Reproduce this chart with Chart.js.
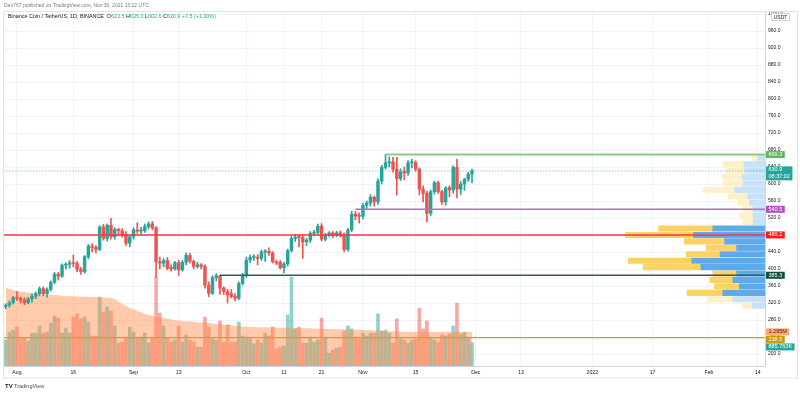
<!DOCTYPE html>
<html>
<head>
<meta charset="utf-8">
<script src="https://cdn.jsdelivr.net/npm/chart.js@4/dist/chart.umd.min.js"></script>
<style>
  html, body { margin: 0; padding: 0; background: #fff; }
  canvas { display: block; }
</style>
</head>
<body>
<canvas id="chart" width="800" height="394"></canvas>
<script>
// BNB/USDT daily candles, 2021-07-29 .. 2021-11-30
const firstDate = '2021-07-29';
const open = [312, 315, 321, 332, 331, 327, 321, 330, 336, 342, 354, 342, 352, 369, 388, 383, 409, 411, 414, 413,
  399, 394, 429, 454, 451, 446, 499, 472, 503, 476, 493, 490, 481, 461, 476, 492, 489, 490, 500, 506,
  497, 417, 414, 420, 404, 400, 415, 398, 416, 432, 418, 406, 410, 406, 362, 343, 380, 384, 355, 347,
  342, 336, 331, 366, 385, 421, 427, 428, 425, 440, 442, 438, 417, 416, 403, 412, 443, 472, 475, 474,
  464, 468, 484, 486, 501, 470, 480, 485, 479, 485, 479, 446, 492, 529, 525, 524, 550, 555, 569, 558,
  607, 639, 650, 652, 635, 613, 629, 626, 650, 651, 635, 588, 578, 531, 582, 603, 582, 558, 592, 586,
  639, 588, 600, 611, 623.5];
const high = [318, 325, 336, 347, 334, 332, 333, 341, 346, 358, 358, 356, 372, 392, 392, 412, 415, 420, 433, 418,
  404, 432, 458, 460, 455, 502, 505, 506, 519, 497, 496, 495, 488, 480, 497, 509, 498, 506, 511, 512,
  500, 428, 425, 427, 410, 418, 421, 420, 438, 437, 421, 416, 413, 410, 370, 384, 389, 386, 358, 352,
  352, 342, 370, 390, 428, 433, 434, 434, 445, 446, 450, 441, 421, 420, 416, 447, 477, 481, 480, 478,
  472, 488, 491, 506, 507, 484, 488, 488, 489, 490, 485, 496, 536, 535, 532, 555, 560, 575, 572, 612,
  644, 669.3, 664, 663, 663, 636, 640, 655, 658, 655, 638, 596, 583, 586, 607, 607, 585, 594, 596, 643,
  658, 606, 614, 628, 635];
const low = [306, 310, 318, 326, 320, 316, 318, 322, 330, 337, 337, 334, 348, 365, 374, 380, 400, 402, 405, 393,
  387, 390, 424, 440, 438, 443, 468, 466, 470, 470, 478, 475, 455, 452, 470, 484, 480, 486, 494, 492,
  380, 400, 405, 398, 395, 397, 385, 395, 410, 414, 400, 402, 400, 355, 335, 340, 372, 340, 340, 320,
  332, 325, 328, 362, 380, 415, 420, 410, 420, 418, 432, 414, 410, 400, 391, 407, 440, 465, 452, 425,
  455, 462, 478, 480, 466, 466, 476, 474, 476, 475, 440, 442, 488, 516, 508, 518, 540, 548, 548, 552,
  600, 635, 640, 628, 574, 608, 610, 620, 638, 630, 575, 558, 511, 525, 576, 578, 552, 550, 570, 578,
  567, 575, 585, 606, 602.6];
const close = [315, 320, 332, 331, 327, 321, 330, 336, 342, 354, 342, 352, 369, 388, 383, 409, 411, 414, 413, 399,
  394, 429, 454, 451, 446, 499, 472, 503, 476, 493, 490, 481, 461, 476, 492, 489, 492, 500, 506, 497,
  417, 414, 420, 402, 400, 415, 398, 416, 432, 418, 406, 410, 406, 362, 343, 380, 384, 355, 347, 339,
  335, 331, 366, 385, 421, 427, 428, 425, 440, 442, 438, 417, 414, 403, 412, 443, 472, 475, 474, 464,
  468, 484, 486, 501, 470, 480, 485, 479, 485, 479, 446, 492, 529, 525, 524, 550, 555, 569, 558, 607,
  639, 650, 652, 635, 613, 629, 626, 650, 651, 635, 588, 578, 531, 582, 603, 582, 558, 590, 586, 639,
  588, 600, 611, 623.5, 630.9];
// volume, thousands of BNB
const volume = [990, 1290, 1370, 1480, 1060, 1060, 950, 1250, 1250, 1520, 1250, 1290, 1630, 1900, 1820, 1250, 1440, 1250, 1860, 1980,
  1790, 1860, 1670, 1140, 1140, 2620, 2050, 2240, 2090, 1520, 870, 910, 1100, 1480, 1290, 1100, 1100, 1250, 870, 1100,
  3380, 2010, 1520, 1060, 910, 990, 1520, 910, 1180, 990, 910, 720, 720, 1860, 1480, 1030, 990, 1710, 910, 1560,
  910, 910, 1670, 1140, 1100, 1030, 840, 990, 870, 1250, 1140, 1480, 650, 720, 760, 1940, 3380, 1410, 1480, 870,
  870, 1100, 910, 990, 1820, 1100, 490, 610, 680, 720, 1330, 1520, 1410, 1100, 1030, 1250, 1140, 1250, 1250, 1980,
  1330, 1370, 1250, 870, 1790, 1030, 990, 870, 990, 1030, 2200, 1410, 1710, 1100, 990, 910, 1180, 1140, 1220, 1520,
  2390, 1220, 1290, 1100, 885.763];
const volumeMA = [2960, 2930, 2890, 2850, 2830, 2810, 2790, 2770, 2750, 2740, 2730, 2720, 2710,
  2700, 2690, 2670, 2660, 2650, 2650, 2640, 2640, 2630, 2630, 2620, 2620, 2620,
  2600, 2590, 2570, 2550, 2460, 2370, 2280, 2210, 2150, 2090, 2040, 1990, 1940,
  1910, 1880, 1850, 1820, 1800, 1780, 1750, 1730, 1710, 1700, 1690, 1680, 1660,
  1650, 1640, 1630, 1610, 1600, 1590, 1570, 1560, 1550, 1530, 1520, 1500, 1490, 1480,
  1480, 1475, 1470, 1470, 1465, 1460, 1455, 1450, 1450, 1445, 1440,
  1440, 1435, 1430, 1430, 1425, 1420, 1415, 1410, 1410, 1405, 1400, 1400, 1395, 1390, 1385, 1380, 1380, 1375, 1370, 1370,
  1360, 1350, 1345, 1335, 1325, 1320, 1310, 1305, 1300,
  1300, 1300, 1295, 1295, 1300, 1300, 1295, 1290, 1290, 1295, 1295, 1300, 1300, 1295, 1300, 1295, 1295, 1295, 1295];

// volume profile (millions), one row per price bin
const profilePrices = [661.7, 646.6, 631.5, 616.3, 601.2, 586.1, 570.9, 555.8, 540.6, 525.5, 510.4, 495.2,
  480.1, 465.0, 449.8, 434.7, 419.6, 404.4, 389.3, 374.2, 359.0, 343.9, 328.8, 313.6];
const profileUp = [0.76, 2.3, 2.2, 2.5, 2.4, 3.3, 1.9, 1.7, 1.3, 1.3, 1.3, 5.7, 7.8, 4.4, 3.1, 4.9, 8.0, 7.0, 3.1, 3.5, 2.8, 4.6, 3.5, 1.4];
const profileDown = [0.65, 2.3, 2.0, 2.2, 2.2, 3.5, 2.1, 1.3, 1.1, 1.5, 1.1, 5.9, 7.4, 4.4, 3.3, 3.7, 6.9, 6.3, 2.6, 2.5, 2.7, 3.9, 2.8, 1.1];

// horizontal levels drawn on the chart
const levelPrices = [669.3, 540.5, 480.2, 385.3, 238.5];
const levelStarts = ['2021-11-07', '2021-10-30', null, '2021-09-24', null];

const priceTicks = [200, 240, 280, 320, 360, 400, 440, 480, 520, 560, 600, 640, 680, 720, 760, 800, 840, 880, 920, 960, 1000];
const tickDates = ['2021-08-01', '2021-08-16', '2021-09-01', '2021-09-13', '2021-10-01', '2021-10-11', '2021-10-21',
  '2021-11-01', '2021-11-15', '2021-12-01', '2021-12-13', '2022-01-01', '2022-01-17', '2022-02-01', '2022-02-14'];
const tickLabels = ['Aug', '16', 'Sep', '13', 'Oct', '11', '21', 'Nov', '15', 'Dec', '13', '2022', '17', 'Feb', '14'];

const FONT = '"Liberation Sans", Arial, sans-serif';
const UP = '#26a69a', DOWN = '#ef5350';
const origin = Date.parse('2021-08-01');
const dayOf = s => (Date.parse(s) - origin) / 86400000;

const xMin = -3.7, xMax = 198.9;
const yMin = 171.8, yMax = 1007.1;

const start = dayOf(firstDate);
const days = open.map((_, i) => start + i);
const isUp = i => close[i] >= open[i];
const last = close.length - 1;

const levelColors = ['rgba(129,199,132,0.95)', '#ba68c8', 'rgba(242,54,69,0.75)', '#2f5d52', '#d4a20a'];
const levelWidths = [2, 1.5, 2, 1.5, 1.3];
const levelBoxes = ['#5cb85c', '#b04fc6', '#ff1a1a', '#124d3e', '#c99a06'];
const inValueArea = i => i >= 11 && i <= 21;

const ctx = document.getElementById('chart').getContext('2d');

const overlay = {
  id: 'overlay',
  beforeDraw(chart) {
    const c = chart.ctx;
    c.save();
    c.fillStyle = '#fff';
    c.fillRect(0, 0, chart.width, chart.height);
    c.restore();
  },
  afterDraw(chart) {
    const c = chart.ctx;
    const { y, yv } = chart.scales;
    const area = chart.chartArea;
    c.save();

    // frame
    c.strokeStyle = '#e0e3eb';
    c.lineWidth = 1;
    c.strokeRect(3.5, 11.5, 794, 366.5);

    // header
    c.textBaseline = 'middle';
    c.textAlign = 'left';
    c.font = `5px ${FONT}`;
    c.fillStyle = '#787b86';
    c.fillText('Den767 published on TradingView.com, Nov 30, 2021 15:22 UTC', 4, 5.5);
    c.font = `5.4px ${FONT}`;
    let hx = 8;
    const seg = (t, col) => { c.fillStyle = col; c.fillText(t, hx, 17); hx += c.measureText(t).width; };
    seg('Binance Coin / TetherUS, 1D, BINANCE  ', '#131722');
    seg('O', '#131722'); seg(open[last].toFixed(1) + ' ', UP);
    seg('H', '#131722'); seg(high[last].toFixed(1) + ' ', UP);
    seg('L', '#131722'); seg(low[last].toFixed(1) + ' ', UP);
    seg('C', '#131722'); seg(close[last].toFixed(1) + ' ', UP);
    seg('+7.5 (+1.30%)', UP);

    // axis label boxes
    const boxAt = (yc, lines, bg, fg, h) => {
      c.font = `5.5px ${FONT}`;
      const w = Math.max(...lines.map(t => c.measureText(t).width)) + 5;
      c.fillStyle = bg;
      c.fillRect(area.right + 1, yc - h / 2, w, h);
      c.fillStyle = fg;
      lines.forEach((t, i) => c.fillText(t, area.right + 3.5, yc - h / 2 + 3.5 + i * 7));
    };
    levelPrices.slice(0, 4).forEach((p, k) => {
      boxAt(y.getPixelForValue(p), [p.toFixed(1)], levelBoxes[k], '#fff', 7);
    });
    const py = y.getPixelForValue(close[last]);
    boxAt(py + 2.5, [close[last].toFixed(1), '08:37:02'], UP, '#fff', 14);

    // bottom cluster, pushed apart so they do not overlap
    const stack = [
      { yc: yv.getPixelForValue(volumeMA[last]), text: (volumeMA[last] / 1000).toFixed(3) + 'M', bg: '#ffa878', fg: '#3a2a20' },
      { yc: y.getPixelForValue(levelPrices[4]), text: levelPrices[4].toFixed(1), bg: levelBoxes[4], fg: '#fff' },
      { yc: yv.getPixelForValue(volume[last]), text: volume[last].toFixed(3) + 'K', bg: UP, fg: '#fff' }
    ].sort((a, b) => a.yc - b.yc);
    for (let i = 1; i < stack.length; i++) {
      if (stack[i].yc < stack[i - 1].yc + 7.5) stack[i].yc = stack[i - 1].yc + 7.5;
    }
    stack.forEach(s => boxAt(s.yc, [s.text], s.bg, s.fg, 7));

    // currency tag
    c.fillStyle = '#fff';
    c.strokeStyle = '#d1d4dc';
    c.fillRect(771, 13, 19, 8);
    c.strokeRect(771.5, 13.5, 18, 7);
    c.fillStyle = '#131722';
    c.font = `5px ${FONT}`;
    c.textAlign = 'center';
    c.fillText('USDT', 780.5, 17.5);

    // logo
    c.textAlign = 'left';
    c.font = `bold 6px ${FONT}`;
    c.fillStyle = '#131722';
    c.fillText('TV', 5, 386);
    c.font = `5.5px ${FONT}`;
    c.fillStyle = '#4a4e59';
    c.fillText('TradingView', 14, 386);
    c.restore();
  }
};

const lineData = (x0, p) => [{ x: x0, y: p }, { x: xMax, y: p }];

new Chart(ctx, {
  type: 'bar',
  data: {
    datasets: [
      ...levelPrices.map((p, k) => ({
        type: 'line', order: 1,
        data: lineData(levelStarts[k] ? dayOf(levelStarts[k]) : xMin, p),
        borderColor: levelColors[k], borderWidth: levelWidths[k],
        pointRadius: 0, fill: false
      })),
      {
        type: 'line', order: 2,
        data: lineData(xMin, close[last]),
        borderColor: 'rgba(38,166,154,0.5)', borderWidth: 1, borderDash: [1.5, 1.5],
        pointRadius: 0, fill: false
      },
      {
        // candle bodies
        type: 'bar', order: 3, grouped: false,
        data: days.map((d, i) => ({ x: d, y: [open[i], close[i]] })),
        backgroundColor: days.map((_, i) => isUp(i) ? UP : DOWN),
        barThickness: 2.8, minBarLength: 1, borderWidth: 0
      },
      {
        // wicks
        type: 'bar', order: 4, grouped: false,
        data: days.map((d, i) => ({ x: d, y: [low[i], high[i]] })),
        backgroundColor: days.map((_, i) => isUp(i) ? UP : DOWN),
        barThickness: 1, borderWidth: 0
      },
      {
        type: 'bar', order: 6, grouped: false, indexAxis: 'y',
        xAxisID: 'xp', yAxisID: 'y', stack: 'vp',
        data: profilePrices.map((p, i) => ({ x: profileUp[i], y: p })),
        backgroundColor: profilePrices.map((_, i) => inValueArea(i) ? '#5faaeb' : '#c6e2f8'),
        barThickness: 5.4, borderWidth: 0
      },
      {
        type: 'bar', order: 6, grouped: false, indexAxis: 'y',
        xAxisID: 'xp', yAxisID: 'y', stack: 'vp',
        data: profilePrices.map((p, i) => ({ x: profileDown[i], y: p })),
        backgroundColor: profilePrices.map((_, i) => inValueArea(i) ? '#fdd264' : '#fff0c8'),
        barThickness: 5.4, borderWidth: 0
      },
      {
        type: 'line', order: 9, yAxisID: 'yv',
        data: days.map((d, i) => ({ x: d, y: volumeMA[i] })),
        borderColor: 'rgba(0,0,0,0)', borderWidth: 1,
        backgroundColor: 'rgba(255,140,70,0.45)', fill: 'origin',
        pointRadius: 0, tension: 0.3
      },
      {
        type: 'bar', order: 10, grouped: false, yAxisID: 'yv',
        data: days.map((d, i) => ({ x: d, y: volume[i] })),
        backgroundColor: days.map((_, i) => isUp(i) ? 'rgba(38,166,154,0.5)' : 'rgba(239,83,80,0.5)'),
        barThickness: 3, borderWidth: 0
      }
    ]
  },
  options: {
    responsive: false,
    animation: false,
    events: [],
    layout: { padding: { left: 3, right: 2, top: 11, bottom: 16 } },
    plugins: { legend: { display: false }, tooltip: { enabled: false } },
    scales: {
      x: {
        type: 'linear', min: xMin, max: xMax, offset: false,
        grid: { color: '#f0f3fa', drawTicks: false, offset: false },
        border: { color: '#d1d4dc' },
        ticks: {
          autoSkip: false, maxRotation: 0, padding: 3, color: '#131722',
          font: { size: 5.2, family: FONT },
          callback: (v, i) => tickLabels[i]
        },
        afterBuildTicks: s => { s.ticks = tickDates.map(d => ({ value: dayOf(d) })); },
        afterFit: s => { s.height = 12; }
      },
      y: {
        type: 'linear', position: 'right', min: yMin, max: yMax, offset: false,
        grid: { color: '#f0f3fa', drawTicks: false, offset: false },
        border: { color: '#d1d4dc' },
        ticks: {
          padding: 3, color: '#131722', font: { size: 5, family: FONT },
          callback: v => v.toFixed(1)
        },
        afterBuildTicks: s => { s.ticks = priceTicks.map(v => ({ value: v })); },
        afterFit: s => { s.width = 33; }
      },
      yv: { type: 'linear', display: false, min: 0, max: 13490, offset: false },
      xp: { type: 'linear', display: false, min: 0, max: 83.1, reverse: true, offset: false }
    }
  },
  plugins: [overlay]
});
</script>
</body>
</html>
